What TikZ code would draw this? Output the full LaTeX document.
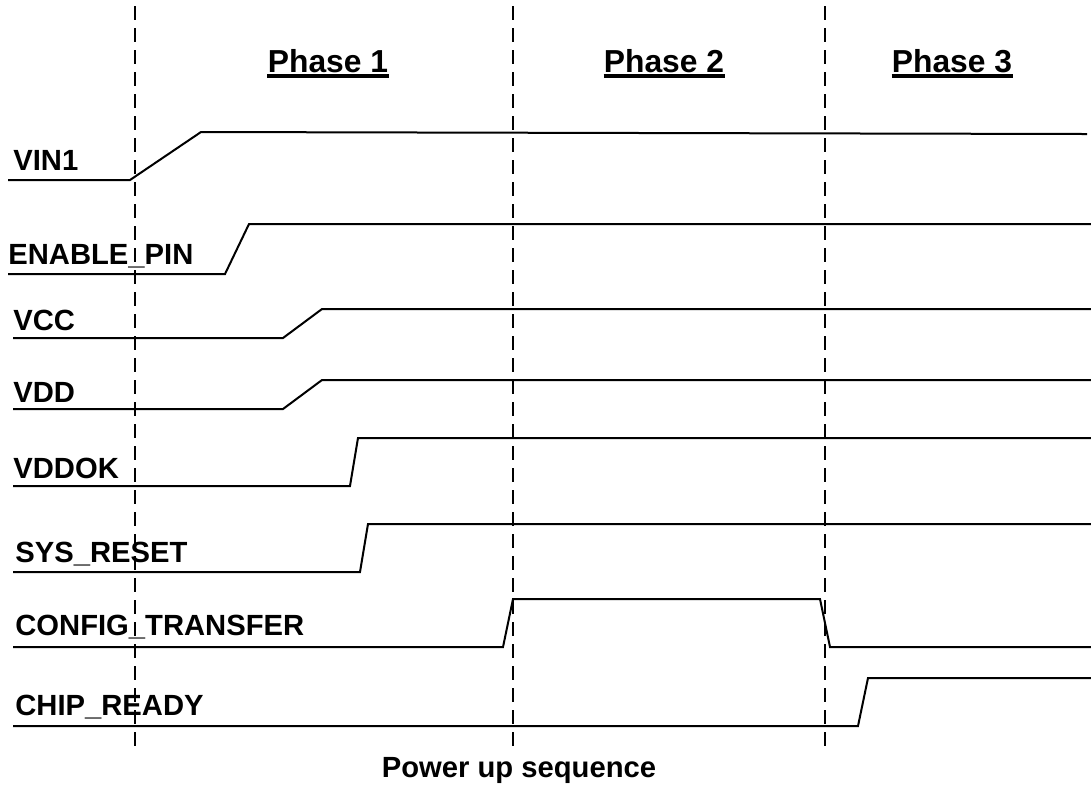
\documentclass[tikz,border=0pt]{standalone}
\usepackage{fontspec}
\setmainfont{Liberation Sans}
\begin{document}
\begin{tikzpicture}[x=0.5pt,y=-0.5pt,
  sig/.style={line width=1pt, line join=miter},
  divider/.style={line width=1.1pt, dash pattern=on 7pt off 4pt},
  siglabel/.style={anchor=base west, inner sep=0pt, font=\fontsize{14.6pt}{16pt}\selectfont\bfseries},
  phaselabel/.style={anchor=base, inner sep=0pt, font=\fontsize{15.9pt}{18pt}\selectfont\bfseries},
  ul/.style={line width=1.75pt}]
\useasboundingbox (0,0) rectangle (1091,784);
% phase dividers
\draw[divider] (135,6) -- (135,747);
\draw[divider] (513,6) -- (513,747);
\draw[divider] (825,6) -- (825,747);
% phase titles
\node[phaselabel] (p1) at (328,72) {Phase 1};
\node[phaselabel] (p2) at (664,72) {Phase 2};
\node[phaselabel] (p3) at (952,72) {Phase 3};
\foreach \p in {p1,p2,p3}{
  \draw[ul] ([yshift=-2pt]\p.base west) -- ([yshift=-2pt]\p.base east);
}
% signal labels
\node[siglabel] (l1) at (13,170) {VIN1};
\node[siglabel] (l2) at (8,264) {ENABLE\_PIN};
\node[siglabel] (l3) at (13,330) {VCC};
\node[siglabel] (l4) at (13,402) {VDD};
\node[siglabel] (l5) at (13,478) {VDDOK};
\node[siglabel] (l6) at (15,562) {SYS\_RESET};
\node[siglabel] (l7) at (15,635) {CONFIG\_TRANSFER};
\node[siglabel] (l8) at (15,715) {CHIP\_READY};
% waveforms
\draw[sig] (8,180) -- (130,180) -- (201,132) -- (1087,134);
\draw[sig] (8,274) -- (225,274) -- (249,224) -- (1091,224);
\draw[sig] (13,338) -- (283,338) -- (322,309) -- (1091,309);
\draw[sig] (13,409) -- (283,409) -- (322,380) -- (1091,380);
\draw[sig] (13,486) -- (350,486) -- (358,438) -- (1091,438);
\draw[sig] (13,572) -- (360,572) -- (368,524) -- (1091,524);
\draw[sig] (13,647) -- (503,647) -- (513,599) -- (820,599) -- (830,647) -- (1091,647);
\draw[sig] (13,726) -- (858,726) -- (868,678) -- (1091,678);
% caption
\node[siglabel, anchor=base] (cap) at (519,777) {Power up sequence};
\end{tikzpicture}
\end{document}
